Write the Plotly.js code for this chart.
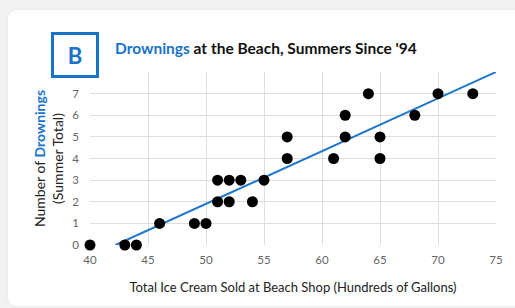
<!DOCTYPE html>
<html>
<head>
<meta charset="utf-8">
<script src="https://cdn.plot.ly/plotly-3.0.1.min.js"></script>
<style>
  html, body { margin:0; padding:0; width:515px; height:308px; overflow:hidden; background:#f2f2f2; }
  #card { position:absolute; left:8px; top:10px; width:520px; height:296px; background:#ffffff; border-radius:9px; box-shadow:0 0 4px rgba(0,0,0,0.05); }
  #chart { position:absolute; left:0; top:0; width:515px; height:308px; }
</style>
</head>
<body>
<div id="card"></div>
<div id="chart"></div>
<script>
// Ice cream sold (hundreds of gallons) and drownings per summer
const iceCream = [40, 43, 44, 46, 49, 50, 51, 51, 52, 52, 53, 54, 55, 57, 57, 61, 62, 62, 64, 65, 65, 68, 70, 73];
const drownings = [0, 0, 0, 1, 1, 1, 3, 2, 3, 2, 3, 2, 3, 5, 4, 4, 6, 5, 7, 5, 4, 6, 7, 7];
// Trend line endpoints
const trendX = [42.2, 75];
const trendY = [0, 8];
const xTicks = [40, 45, 50, 55, 60, 65, 70, 75];
const yTicks = [0, 1, 2, 3, 4, 5, 6, 7, 8];
// the top label (8) is hidden behind the "B" badge in the reference
const yTickLabels = ['0', '1', '2', '3', '4', '5', '6', '7', ''];

const blue = '#1a73c8';
const font = 'Lato, "Open Sans", sans-serif';

const traces = [
  {
    x: trendX, y: trendY, type: 'scatter', mode: 'lines',
    line: { color: '#1f77c9', width: 2 }, hoverinfo: 'skip', cliponaxis: true
  },
  {
    x: iceCream, y: drownings, type: 'scatter', mode: 'markers',
    marker: { color: '#000000', size: 11 }, cliponaxis: false
  }
];

const layout = {
  width: 515, height: 308,
  margin: { l: 90, r: 19, t: 72, b: 63 },
  paper_bgcolor: 'rgba(0,0,0,0)',
  plot_bgcolor: 'rgba(0,0,0,0)',
  showlegend: false,
  font: { family: font, color: '#595959' },
  title: {
    text: "<b><span style='color:" + blue + "'>Drownings</span> at the Beach, Summers Since '94</b>",
    font: { family: font, size: 15.5, color: '#111111' },
    x: 115 / 515, xanchor: 'left', xref: 'container',
    y: 1 - 49 / 308, yanchor: 'middle', yref: 'container'
  },
  xaxis: {
    range: [40, 75], tickvals: xTicks, ticktext: xTicks.map(String),
    showgrid: true, gridcolor: '#dedede', gridwidth: 1,
    zeroline: false, showline: false, ticks: '', ticklabelstandoff: 6,
    tickfont: { size: 11.5, color: '#666666' },
    title: { text: 'Total Ice Cream Sold at Beach Shop (Hundreds of Gallons)', font: { size: 13, color: '#222222' }, standoff: 18 }
  },
  yaxis: {
    range: [0, 8], tickvals: yTicks, ticktext: yTickLabels,
    showgrid: true, gridcolor: '#dedede', gridwidth: 1,
    zeroline: false, showline: false, ticks: '', ticklabelstandoff: 10,
    tickfont: { size: 11.5, color: '#666666' },
    title: { text: "Number of <span style='color:" + blue + "'><b>Drownings</b></span><br>(Summer Total)", font: { size: 14, color: '#222222' }, standoff: 5 }
  },
  annotations: [
    {
      text: '<b>B</b>', xref: 'paper', yref: 'paper',
      x: (75 - 90) / 406, y: (244.7 - 55) / 172.7, xanchor: 'center', yanchor: 'middle',
      showarrow: false, font: { family: font, size: 22, color: blue },
      bgcolor: '#ffffff', bordercolor: blue, borderwidth: 3, borderpad: 0,
      width: 42, height: 40, align: 'center', valign: 'middle'
    }
  ]
};

Plotly.newPlot('chart', traces, layout, { displayModeBar: false, staticPlot: true });
</script>
</body>
</html>
